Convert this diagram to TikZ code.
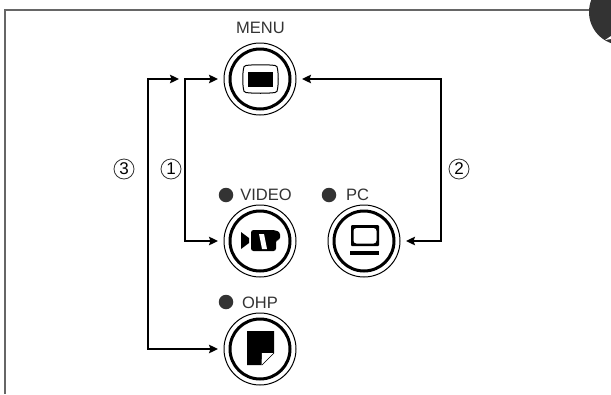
\documentclass[tikz,border=0pt]{standalone}
\usepackage{fontspec}
\setmainfont{Liberation Sans}
\usetikzlibrary{arrows.meta}
\definecolor{ink}{gray}{0.2}
\tikzset{
  x=1pt,y=-1pt,
  btn/.style={circle,draw=black,line width=1pt,minimum size=72pt,inner sep=0pt,outer sep=0pt},
  ring/.style={draw=black,line width=3pt},
  conn/.style={draw=black,line width=1.6pt,line join=miter,{Stealth[length=9pt,width=8.5pt,inset=1.5pt]}-{Stealth[length=9pt,width=8.5pt,inset=1.5pt]},shorten >=6pt,shorten <=6pt},
  lbl/.style={font=\fontsize{16.5}{18}\selectfont,text=ink,inner sep=0pt},
  num/.style={circle,draw=ink,line width=0.8pt,minimum size=20pt,inner sep=0pt,font=\fontsize{17}{18}\selectfont,text=black},
  led/.style={circle,fill=ink,minimum size=14.5pt,inner sep=0pt},
  frameline/.style={draw=black!60,line width=2pt}
}
\begin{document}
\begin{tikzpicture}
\useasboundingbox (0,0) rectangle (611,394);
\fill[white] (0,0) rectangle (611,394);
% frame
\coordinate (fa) at (4.5,394);
\coordinate (fb) at (4.5,10);
\coordinate (fc) at (590,10);
\draw[frameline] (fa) -- (fb) -- (fc);
% tab
\begin{scope}
\clip (0,0) rectangle (611,394);
\fill[ink] (622,12) circle (33);
\fill[white] (605,40) -- (611,36) -- (611,39) -- cycle;
\end{scope}
% buttons
\node[btn] (menu) at (260,79) {};
\node[btn] (video) at (260,241) {};
\node[btn] (pc) at (364,241) {};
\node[btn] (ohp) at (260,349) {};
\foreach \n in {menu,video,pc,ohp} \draw[ring] (\n.center) circle (30);
% labels
\node[lbl] (tmenu) at (260.5,28) {MENU};
\node[led] (dv) at (226,195) {};
\node[lbl] (tv) at (266,195) {VIDEO};
\node[led] (dp) at (329,195) {};
\node[lbl] (tp) at (357.5,195) {PC};
\node[led] (do) at (226,302) {};
\node[lbl] (to) at (260,303) {OHP};
\node[num] (n3) at (124,169) {3};
\node[num] (n1) at (171,169) {1};
\node[num] (n2) at (459,169) {2};
% connectors
\coordinate (c1a) at (185,79);
\coordinate (c1b) at (185,241);
\draw[conn] (menu.west) -- (c1a) -- (c1b) -- (video.west);
\coordinate (c2a) at (441,79);
\coordinate (c2b) at (441,241);
\draw[conn] (menu.east) -- (c2a) -- (c2b) -- (pc.east);
\coordinate (e3) at (179,79);
\coordinate (c3a) at (148,79);
\coordinate (c3b) at (148,349);
\draw[conn,shorten <=0pt] (e3) -- (c3a) -- (c3b) -- (ohp.west);
% menu icon
\draw[black,line width=1pt] (246,65.5) .. controls (252,64.5) and (269,64.5) .. (275,65.5) .. controls (277,66) and (277.5,67) .. (277.5,69) .. controls (278.5,74) and (278.5,84) .. (277.5,89) .. controls (277.5,91) and (277,92) .. (275,92.5) .. controls (269,93.5) and (252,93.5) .. (246,92.5) .. controls (244,92) and (243.5,91) .. (243.5,89) .. controls (242.5,84) and (242.5,74) .. (243.5,69) .. controls (243.5,67) and (244,66) .. (246,65.5) -- cycle;
\fill[black] (248,72) rectangle (273,87);
% video icon
\fill[black] (241,232) -- (249,238) -- (249,243) -- (241,249) -- cycle;
\fill[black,rounded corners=2.5pt] (251,230) -- (274,230) -- (280,232) -- (280,240) -- (276,240) -- (276,251) -- (251,251) -- cycle;
\fill[white] (259,234) -- (264,234) -- (267,249) -- (262,249) -- cycle;
% pc icon
\fill[black,rounded corners=1pt] (351,225) rectangle (379,246);
\fill[white,rounded corners=3pt] (353.5,228) rectangle (376.5,243.5);
\fill[black] (350,251) rectangle (379,255);
% ohp icon
\fill[black] (247,331) -- (274,331) -- (274,353) -- (262,365) -- (247,365) -- cycle;
\fill[white] (261.5,365.5) -- (274,353) -- (262,353) -- cycle;
\draw[black,line width=0.6pt] (262,365) -- (274,353);
\end{tikzpicture}
\end{document}
